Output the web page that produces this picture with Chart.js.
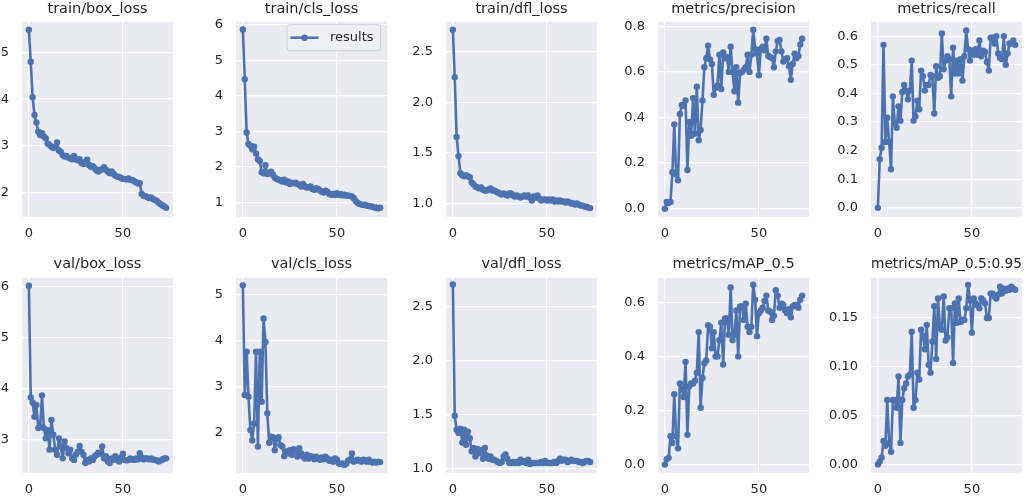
<!DOCTYPE html>
<html>
<head>
<meta charset="utf-8">
<script src="https://cdn.jsdelivr.net/npm/chart.js@4.4.0/dist/chart.umd.min.js"></script>
<style>
  html, body { margin: 0; padding: 0; background: #fff; }
  body { position: relative; width: 1029px; height: 497px; overflow: hidden; }
  canvas { position: absolute; }
</style>
</head>
<body>
<script>
// epochs 0..73
const epochs = [0,1,2,3,4,5,6,7,8,9,10,11,12,13,14,15,16,17,18,19,20,21,22,23,24,25,26,27,28,29,30,31,32,33,34,35,36,37,38,39,40,41,42,43,44,45,46,47,48,49,50,51,52,53,54,55,56,57,58,59,60,61,62,63,64,65,66,67,68,69,70,71,72,73];

const trainBoxLoss = [5.49,4.80,4.04,3.66,3.50,3.30,3.23,3.27,3.20,3.16,3.05,3.02,2.98,2.95,2.98,3.07,2.90,2.87,2.80,2.77,2.78,2.75,2.73,2.71,2.78,2.71,2.69,2.71,2.63,2.61,2.66,2.70,2.59,2.55,2.56,2.52,2.47,2.45,2.49,2.49,2.54,2.49,2.45,2.41,2.45,2.40,2.36,2.34,2.33,2.31,2.29,2.29,2.28,2.30,2.27,2.27,2.24,2.22,2.19,2.20,1.97,1.93,1.92,1.90,1.88,1.89,1.86,1.84,1.82,1.78,1.75,1.72,1.70,1.67];
const trainClsLoss = [5.87,4.47,2.97,2.65,2.60,2.50,2.57,2.38,2.22,2.17,1.85,1.82,2.05,1.80,1.82,1.87,1.78,1.70,1.66,1.64,1.62,1.59,1.64,1.56,1.59,1.52,1.56,1.54,1.56,1.52,1.50,1.45,1.52,1.45,1.42,1.43,1.45,1.38,1.36,1.40,1.38,1.34,1.30,1.28,1.33,1.30,1.24,1.22,1.24,1.21,1.26,1.22,1.24,1.20,1.22,1.19,1.20,1.18,1.17,1.12,1.04,0.99,0.96,0.94,0.93,0.94,0.91,0.90,0.89,0.88,0.86,0.85,0.84,0.85];
const trainDflLoss = [2.72,2.25,1.66,1.47,1.30,1.28,1.27,1.28,1.27,1.26,1.21,1.19,1.17,1.16,1.15,1.16,1.14,1.13,1.13,1.14,1.15,1.13,1.13,1.12,1.11,1.10,1.09,1.10,1.09,1.08,1.10,1.10,1.08,1.07,1.08,1.07,1.06,1.07,1.08,1.07,1.08,1.06,1.03,1.07,1.06,1.08,1.05,1.03,1.04,1.04,1.03,1.04,1.03,1.04,1.02,1.03,1.02,1.03,1.02,1.02,1.01,1.02,1.01,1.00,1.00,0.99,1.00,0.99,0.98,0.98,0.97,0.97,0.96,0.955];
const precision = [0.00,0.03,0.025,0.03,0.16,0.37,0.15,0.125,0.415,0.455,0.45,0.475,0.17,0.38,0.32,0.485,0.33,0.535,0.30,0.345,0.475,0.62,0.66,0.715,0.655,0.635,0.50,0.53,0.54,0.675,0.525,0.685,0.66,0.665,0.60,0.71,0.60,0.515,0.62,0.465,0.595,0.60,0.61,0.62,0.675,0.60,0.675,0.785,0.70,0.68,0.585,0.70,0.71,0.695,0.745,0.67,0.665,0.66,0.62,0.69,0.735,0.74,0.69,0.645,0.655,0.66,0.625,0.565,0.635,0.68,0.66,0.67,0.72,0.745];
const recall = [0.0,0.17,0.21,0.57,0.23,0.315,0.23,0.135,0.39,0.295,0.28,0.355,0.305,0.405,0.43,0.41,0.38,0.41,0.515,0.305,0.32,0.375,0.345,0.48,0.46,0.41,0.43,0.43,0.465,0.46,0.33,0.495,0.455,0.46,0.61,0.485,0.515,0.53,0.52,0.39,0.56,0.47,0.515,0.47,0.52,0.445,0.53,0.62,0.555,0.515,0.55,0.535,0.555,0.535,0.585,0.53,0.55,0.545,0.51,0.48,0.595,0.595,0.575,0.60,0.54,0.525,0.52,0.60,0.50,0.54,0.575,0.575,0.585,0.57];
const valBoxLoss = [6.01,3.83,3.73,3.45,3.68,3.23,3.26,3.87,3.23,3.03,3.19,2.81,3.39,3.10,2.81,2.71,3.03,2.87,2.64,2.97,2.84,2.74,2.81,2.64,2.61,2.71,2.77,2.88,2.77,2.71,2.55,2.61,2.58,2.64,2.61,2.68,2.71,2.75,2.73,2.87,2.64,2.68,2.58,2.55,2.64,2.61,2.68,2.62,2.58,2.66,2.73,2.61,2.60,2.61,2.64,2.62,2.61,2.64,2.62,2.74,2.66,2.62,2.64,2.64,2.62,2.64,2.62,2.61,2.60,2.58,2.60,2.62,2.64,2.64];
const valClsLoss = [5.20,2.82,3.76,2.78,2.06,1.83,2.20,3.76,1.70,3.76,2.67,4.48,3.97,2.42,1.78,1.91,1.90,1.62,1.86,1.90,1.73,1.70,1.49,1.59,1.55,1.62,1.52,1.64,1.62,1.48,1.66,1.55,1.48,1.44,1.52,1.44,1.49,1.48,1.42,1.48,1.44,1.41,1.46,1.42,1.48,1.44,1.39,1.41,1.37,1.44,1.41,1.33,1.32,1.33,1.30,1.33,1.39,1.42,1.55,1.37,1.39,1.41,1.39,1.37,1.41,1.39,1.37,1.41,1.37,1.35,1.37,1.35,1.37,1.36];
const valDflLoss = [2.71,1.49,1.36,1.33,1.37,1.24,1.36,1.22,1.34,1.28,1.16,1.19,1.11,1.18,1.14,1.17,1.09,1.19,1.12,1.09,1.11,1.08,1.08,1.07,1.06,1.05,1.06,1.11,1.13,1.09,1.05,1.05,1.06,1.05,1.06,1.05,1.08,1.06,1.07,1.05,1.08,1.04,1.05,1.05,1.05,1.05,1.05,1.06,1.05,1.07,1.05,1.05,1.05,1.05,1.06,1.05,1.07,1.09,1.07,1.08,1.08,1.06,1.07,1.08,1.07,1.07,1.07,1.06,1.06,1.05,1.06,1.07,1.07,1.06];
const mAP50 = [0.0,0.02,0.025,0.105,0.08,0.26,0.105,0.06,0.30,0.28,0.25,0.38,0.11,0.29,0.30,0.30,0.31,0.34,0.49,0.21,0.32,0.375,0.385,0.515,0.51,0.43,0.49,0.40,0.40,0.46,0.525,0.37,0.54,0.54,0.48,0.655,0.46,0.48,0.57,0.40,0.585,0.585,0.535,0.595,0.51,0.49,0.51,0.665,0.61,0.475,0.56,0.57,0.58,0.605,0.625,0.57,0.565,0.535,0.55,0.645,0.625,0.58,0.595,0.59,0.57,0.56,0.575,0.545,0.585,0.59,0.59,0.58,0.61,0.625];
const mAP5095 = [0.0,0.003,0.007,0.024,0.019,0.066,0.022,0.013,0.066,0.066,0.058,0.09,0.022,0.066,0.078,0.083,0.09,0.092,0.136,0.058,0.066,0.094,0.087,0.138,0.132,0.118,0.143,0.102,0.094,0.126,0.162,0.108,0.17,0.14,0.138,0.172,0.127,0.13,0.16,0.16,0.104,0.165,0.145,0.17,0.146,0.148,0.148,0.16,0.184,0.168,0.135,0.17,0.165,0.163,0.16,0.17,0.168,0.165,0.15,0.15,0.175,0.175,0.172,0.17,0.174,0.182,0.175,0.18,0.178,0.18,0.179,0.182,0.18,0.179];

// tick values
const xTicks = [0, 50];
const boxTicks = [2, 3, 4, 5];
const clsTicks = [1, 2, 3, 4, 5, 6];
const dflTicks = [1.0, 1.5, 2.0, 2.5];
const precisionTicks = [0.0, 0.2, 0.4, 0.6, 0.8];
const recallTicks = [0.0, 0.1, 0.2, 0.3, 0.4, 0.5, 0.6];
const valBoxTicks = [3, 4, 5, 6];
const valClsTicks = [2, 3, 4, 5];
const mAP50Ticks = [0.0, 0.2, 0.4, 0.6];
const mAP5095Ticks = [0.00, 0.05, 0.10, 0.15];

const LINE = '#4C72B0';
const TEXT = '#262626';
const PLOT_W = 153.3;
const YAXIS_W = 60;

Chart.defaults.font.family = "'DejaVu Sans', sans-serif";
Chart.defaults.color = TEXT;

const plotBg = {
  id: 'plotBg',
  beforeDraw(chart) {
    const { ctx, chartArea: a } = chart;
    ctx.save();
    ctx.fillStyle = '#EAEAF2';
    ctx.fillRect(a.left, a.top, a.right - a.left, a.bottom - a.top);
    ctx.restore();
  }
};

// matplotlib style legend box in the upper right corner
const legendBox = {
  id: 'legendBox',
  afterDraw(chart, args, opts) {
    if (!opts.show) return;
    const { ctx, chartArea: a } = chart;
    const ds = chart.data.datasets[0];
    const w = 93.5, h = 26;
    const x = a.right - w - 7, y = a.top + 2.5;
    ctx.save();
    ctx.beginPath();
    ctx.roundRect(x + 0.5, y + 0.5, w, h, 3);
    ctx.fillStyle = 'rgba(240,240,246,0.9)';
    ctx.fill();
    ctx.strokeStyle = '#CFCFD6';
    ctx.lineWidth = 1;
    ctx.stroke();
    const cy = y + h / 2 + 0.5;
    ctx.strokeStyle = LINE;
    ctx.lineWidth = 2.6;
    ctx.beginPath();
    ctx.moveTo(x + 4, cy);
    ctx.lineTo(x + 32, cy);
    ctx.stroke();
    ctx.fillStyle = LINE;
    ctx.beginPath();
    ctx.arc(x + 18, cy, 3.3, 0, Math.PI * 2);
    ctx.fill();
    ctx.fillStyle = TEXT;
    ctx.font = "13px 'DejaVu Sans', sans-serif";
    ctx.textBaseline = 'middle';
    ctx.fillText(ds.label, x + 43.5, cy);
    ctx.restore();
  }
};

const panels = [
  { title: 'train/box_loss', data: trainBoxLoss, min: 1.48, max: 5.66, ticks: boxTicks, dec: 0, left: 21.7, row: 0 },
  { title: 'train/cls_loss', data: trainClsLoss, min: 0.60, max: 6.09, ticks: clsTicks, dec: 0, left: 235.5, row: 0, legend: true },
  { title: 'train/dfl_loss', data: trainDflLoss, min: 0.87, max: 2.80, ticks: dflTicks, dec: 1, left: 446, row: 0 },
  { title: 'metrics/precision', data: precision, min: -0.035, max: 0.82, ticks: precisionTicks, dec: 1, left: 658.3, row: 0 },
  { title: 'metrics/recall', data: recall, min: -0.031, max: 0.651, ticks: recallTicks, dec: 1, left: 870.7, row: 0 },
  { title: 'val/box_loss', data: valBoxLoss, min: 2.36, max: 6.16, ticks: valBoxTicks, dec: 0, left: 21.7, row: 1 },
  { title: 'val/cls_loss', data: valClsLoss, min: 1.13, max: 5.36, ticks: valClsTicks, dec: 0, left: 235.5, row: 1 },
  { title: 'val/dfl_loss', data: valDflLoss, min: 0.96, max: 2.77, ticks: dflTicks, dec: 1, left: 446, row: 1 },
  { title: 'metrics/mAP_0.5', data: mAP50, min: -0.03, max: 0.69, ticks: mAP50Ticks, dec: 1, left: 658.3, row: 1 },
  { title: 'metrics/mAP_0.5:0.95', data: mAP5095, min: -0.0085, max: 0.191, ticks: mAP5095Ticks, dec: 2, left: 870.7, row: 1 }
];

const rows = [
  { top: 0, height: 245, axisH: 28.3, titlePad: { top: 0.5, bottom: 3.8 } },
  { top: 250, height: 247, axisH: 24.3, titlePad: { top: 6, bottom: 4.6 } }
];

panels.forEach(p => {
  const r = rows[p.row];
  const cv = document.createElement('canvas');
  const w = Math.round(YAXIS_W + PLOT_W + 2);
  cv.width = w;
  cv.height = r.height;
  cv.style.left = (p.left - YAXIS_W) + 'px';
  cv.style.top = r.top + 'px';
  cv.style.width = w + 'px';
  cv.style.height = r.height + 'px';
  document.body.appendChild(cv);

  new Chart(cv, {
    type: 'line',
    data: {
      datasets: [{
        label: 'results',
        data: epochs.map((e, i) => ({ x: e, y: p.data[i] })),
        borderColor: LINE,
        backgroundColor: LINE,
        borderWidth: 2.6,
        borderJoinStyle: 'round',
        borderCapStyle: 'round',
        pointRadius: 3.2,
        pointBorderWidth: 0,
        pointBackgroundColor: LINE,
        tension: 0
      }]
    },
    options: {
      responsive: false,
      animation: false,
      layout: { padding: { left: 0, right: w - YAXIS_W - PLOT_W, top: 0, bottom: 0 } },
      plugins: {
        legend: { display: false },
        tooltip: { enabled: false },
        title: {
          display: true,
          text: p.title,
          fullSize: false,
          color: TEXT,
          font: { size: 14.5, weight: 'normal' },
          padding: r.titlePad
        },
        legendBox: { show: !!p.legend }
      },
      scales: {
        x: {
          type: 'linear',
          min: -3.65,
          max: 76.65,
          afterBuildTicks: s => { s.ticks = xTicks.map(v => ({ value: v })); },
          afterFit: s => { s.height = r.axisH; },
          ticks: { color: TEXT, font: { size: 13 }, padding: 9, maxRotation: 0, callback: v => String(v) },
          grid: { color: '#ffffff', lineWidth: 1.3, drawTicks: false },
          border: { display: false }
        },
        y: {
          type: 'linear',
          min: p.min,
          max: p.max,
          afterBuildTicks: s => { s.ticks = p.ticks.map(v => ({ value: v })); },
          afterFit: s => { s.width = YAXIS_W; },
          ticks: { color: TEXT, font: { size: 13 }, padding: 13, callback: v => Number(v).toFixed(p.dec) },
          grid: { color: '#ffffff', lineWidth: 1.3, drawTicks: false },
          border: { display: false }
        }
      }
    },
    plugins: [plotBg, legendBox]
  });
});
</script>
</body>
</html>
